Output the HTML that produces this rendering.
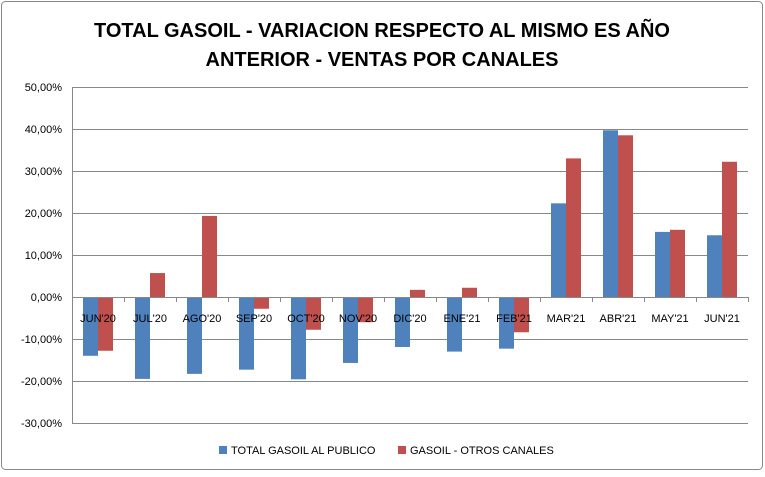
<!DOCTYPE html><html><head><style>body{margin:0;background:#fff}</style></head><body>
<svg width="765" height="472" xmlns="http://www.w3.org/2000/svg" font-family="Liberation Sans, sans-serif">
<rect x="1.5" y="1.5" width="761" height="468" rx="4" fill="#fff" stroke="#888" stroke-width="1"/>
<text x="382" y="37" text-anchor="middle" font-size="20" font-weight="bold">TOTAL GASOIL - VARIACION RESPECTO AL MISMO ES AÑO</text>
<text x="382" y="66" text-anchor="middle" font-size="20" font-weight="bold">ANTERIOR - VENTAS POR CANALES</text>
<g stroke="#888" stroke-width="1">
<line x1="72" y1="87.5" x2="748" y2="87.5"/><line x1="72" y1="129.5" x2="748" y2="129.5"/><line x1="72" y1="171.5" x2="748" y2="171.5"/><line x1="72" y1="213.5" x2="748" y2="213.5"/><line x1="72" y1="255.5" x2="748" y2="255.5"/><line x1="72" y1="339.5" x2="748" y2="339.5"/><line x1="72" y1="381.5" x2="748" y2="381.5"/><line x1="72" y1="423.5" x2="748" y2="423.5"/>
<line x1="72.5" y1="87" x2="72.5" y2="424"/>
</g>
<g font-size="11" text-anchor="end" fill="#000">
<text x="62" y="91">50,00%</text><text x="62" y="133">40,00%</text><text x="62" y="175">30,00%</text><text x="62" y="217">20,00%</text><text x="62" y="259">10,00%</text><text x="62" y="301">0,00%</text><text x="62" y="343">-10,00%</text><text x="62" y="385">-20,00%</text><text x="62" y="427">-30,00%</text>
</g>
<g id="bars"></g>
<line x1="72" y1="297.5" x2="748" y2="297.5" stroke="#888"/>
<g id="ticks" stroke="#888"></g>
<g id="labels" font-size="11" text-anchor="middle"></g>
<rect x="219" y="446" width="8" height="8" fill="#4F81BD"/><text x="231" y="454" font-size="11">TOTAL GASOIL AL PUBLICO</text>
<rect x="398" y="446" width="8" height="8" fill="#C0504D"/><text x="410" y="454" font-size="11">GASOIL - OTROS CANALES</text>
</svg>
<script>
var b=[-14,-19.5,-18.3,-17.3,-19.6,-15.7,-11.9,-13,-12.3,22.3,39.7,15.5,14.7];
var r=[-12.8,5.7,19.3,-2.8,-7.8,-6,1.7,2.2,-8.4,33,38.5,16,32.2];
var L=["JUN'20","JUL'20","AGO'20","SEP'20","OCT'20","NOV'20","DIC'20","ENE'21","FEB'21","MAR'21","ABR'21","MAY'21","JUN'21"];
var ns="http://www.w3.org/2000/svg",g=document.getElementById('bars'),t=document.getElementById('ticks'),lb=document.getElementById('labels');
function R(x,v,c){var e=document.createElementNS(ns,'rect');var y0=297,y=y0-v*4.2;e.setAttribute('x',x);e.setAttribute('width',15);e.setAttribute('y',Math.min(y,y0));e.setAttribute('height',Math.abs(y-y0));e.setAttribute('fill',c);g.appendChild(e);}
for(var i=0;i<13;i++){var x0=72+52*i;R(x0+11,b[i],'#4F81BD');R(x0+26,r[i],'#C0504D');
var l=document.createElementNS(ns,'line');l.setAttribute('x1',x0+52.5);l.setAttribute('x2',x0+52.5);l.setAttribute('y1',297);l.setAttribute('y2',302);t.appendChild(l);
var s=document.createElementNS(ns,'text');s.setAttribute('x',x0+26);s.setAttribute('y',322);s.textContent=L[i];lb.appendChild(s);}
</script>
</body></html>
